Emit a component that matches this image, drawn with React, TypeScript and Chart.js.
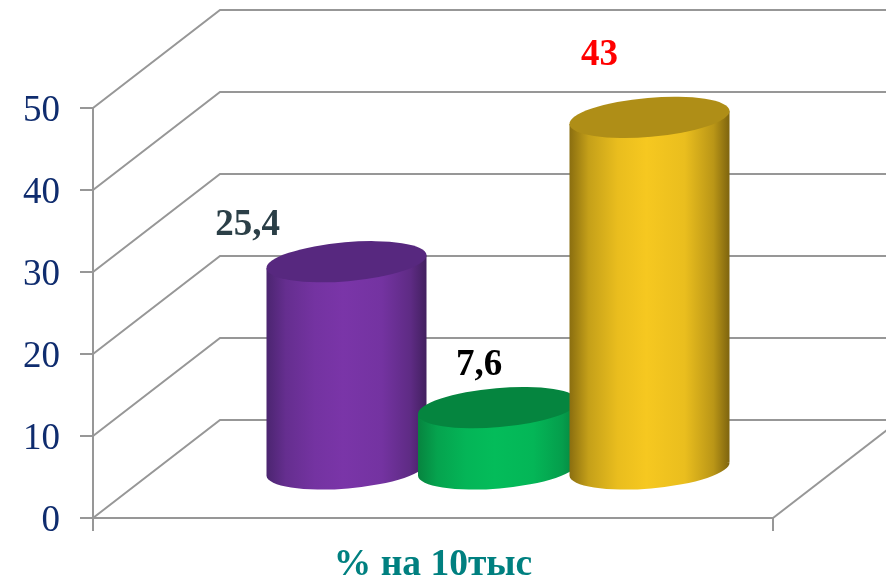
import React, { useEffect, useRef } from "react";
import { Chart, registerables } from "chart.js";

Chart.register(...registerables);

const categories = ["% на 10тыс"];
const seriesNames = ["A", "B", "C"];
const seriesValues = [25.4, 7.6, 43];
const valueLabels = ["25,4", "7,6", "43"];
const labelColors = ["#2B3F47", "#000000", "#FF0000"];
const yTicks = [0, 10, 20, 30, 40, 50];
const bodyEdgeLeft = ["#4B2570", "#07843F", "#8A6E10"];
const bodyMid = ["#7A35A8", "#04BC5A", "#F6C820"];
const bodyEdgeRight = ["#42205F", "#06803D", "#7E640E"];
const capColors = ["#57287F", "#05853F", "#AF8E17"];

const DEPTH_X = 127;
const DEPTH_Y = 98;
const CYL_SHIFT_X = 65;
const CYL_SHIFT_Y = 48;
const GRID = "#979797";
const SERIF = '"Liberation Serif", "Times New Roman", serif';
const LABEL_OFFSET = [
  { dx: -99, dy: -36 },
  { dx: -19, dy: -42 },
  { dx: -50, dy: -62 },
];

function mix(c1: string, c2: string, t: number) {
  const p = (c: string, i: number) => parseInt(c.slice(1 + i * 2, 3 + i * 2), 16);
  const v = [0, 1, 2].map((i) => Math.round(p(c1, i) + (p(c2, i) - p(c1, i)) * t));
  return `rgb(${v[0]},${v[1]},${v[2]})`;
}

const wall3d = {
  id: "wall3d",
  beforeDatasetsDraw(chart: any) {
    const { ctx, scales } = chart;
    const y = scales.y;
    const x = scales.x;
    ctx.save();
    ctx.strokeStyle = GRID;
    ctx.lineWidth = 2;
    yTicks.forEach((t) => {
      const py = y.getPixelForValue(t);
      ctx.beginPath();
      ctx.moveTo(x.left, py);
      ctx.lineTo(x.left + DEPTH_X, py - DEPTH_Y);
      ctx.lineTo(chart.width, py - DEPTH_Y);
      ctx.stroke();
    });
    const by = y.getPixelForValue(0);
    ctx.beginPath();
    ctx.moveTo(x.right, by);
    ctx.lineTo(x.right + DEPTH_X, by - DEPTH_Y);
    ctx.stroke();
    ctx.restore();
  },
};

const cylinders = {
  id: "cylinders",
  afterDatasetsDraw(chart: any) {
    const { ctx } = chart;
    const W = 160 / 151.5;
    const tilt = (-4.9 * Math.PI) / 180;
    const b = 19.5;
    const skew = 6.5;
    chart.data.datasets.forEach((_: any, i: number) => {
      const el = chart.getDatasetMeta(i).data[0];
      const w = el.width * W;
      const a = w / 2;
      const cx = el.x + CYL_SHIFT_X;
      const top = el.y - CYL_SHIFT_Y;
      const bot = el.base - CYL_SHIFT_Y;
      const grad = ctx.createLinearGradient(cx - a, 0, cx + a, 0);
      grad.addColorStop(0, bodyEdgeLeft[i]);
      grad.addColorStop(0.12, mix(bodyEdgeLeft[i], bodyMid[i], 0.55));
      grad.addColorStop(0.3, mix(bodyEdgeLeft[i], bodyMid[i], 0.88));
      grad.addColorStop(0.48, bodyMid[i]);
      grad.addColorStop(0.72, mix(bodyEdgeRight[i], bodyMid[i], 0.9));
      grad.addColorStop(0.9, mix(bodyEdgeRight[i], bodyMid[i], 0.5));
      grad.addColorStop(1, bodyEdgeRight[i]);
      ctx.save();
      ctx.fillStyle = grad;
      ctx.beginPath();
      ctx.moveTo(cx - a, top + skew);
      ctx.lineTo(cx - a, bot + skew);
      ctx.lineTo(cx + a, bot - skew);
      ctx.lineTo(cx + a, top - skew);
      ctx.closePath();
      ctx.moveTo(cx + a, bot);
      ctx.ellipse(cx, bot, a + 0.3, b, tilt, 0, Math.PI * 2, true);
      ctx.fill("nonzero");
      ctx.beginPath();
      ctx.ellipse(cx, top, a + 0.3, b, tilt, 0, Math.PI * 2);
      ctx.fillStyle = capColors[i];
      ctx.fill();
      ctx.restore();

      ctx.save();
      ctx.font = `bold 37px ${SERIF}`;
      ctx.textAlign = "center";
      ctx.textBaseline = "middle";
      ctx.fillStyle = labelColors[i];
      ctx.fillText(valueLabels[i], cx + LABEL_OFFSET[i].dx, top + LABEL_OFFSET[i].dy);
      ctx.restore();
    });
  },
};

export default function App() {
  const ref = useRef<HTMLCanvasElement>(null);
  useEffect(() => {
    document.body.style.margin = "0";
    const chart = new Chart(ref.current!, {
      type: "bar",
      data: {
        labels: categories,
        datasets: seriesValues.map((v, i) => ({
          label: seriesNames[i],
          data: [v],
          backgroundColor: "transparent",
          borderWidth: 0,
          categoryPercentage: 454.5 / 680,
          barPercentage: 1,
        })),
      },
      options: {
        responsive: false,
        animation: false,
        layout: { padding: { top: 108, right: 113, left: 0, bottom: 0 } },
        plugins: { legend: { display: false }, tooltip: { enabled: false } },
        scales: {
          x: {
            afterFit: (s: any) => {
              s.height = 59;
            },
            grid: {
              drawOnChartArea: false,
              drawTicks: true,
              tickLength: 13,
              color: GRID,
              lineWidth: 2,
            },
            border: { color: GRID, width: 2 },
            ticks: {
              color: "#008080",
              padding: 12,
              maxRotation: 0,
              font: { family: SERIF, size: 37.5, weight: "bold" },
            },
          },
          y: {
            min: 0,
            max: 50,
            afterFit: (s: any) => {
              s.width = 93;
            },
            grid: {
              drawOnChartArea: false,
              drawTicks: true,
              tickLength: 13,
              color: GRID,
              lineWidth: 2,
            },
            border: { color: GRID, width: 2 },
            ticks: {
              stepSize: 10,
              color: "#0F2C6E",
              padding: 20,
              labelOffset: 3,
              font: { family: SERIF, size: 37 },
            },
          },
        },
      },
      plugins: [wall3d, cylinders],
    } as any);
    return () => chart.destroy();
  }, []);
  return (
    <canvas
      ref={ref}
      width={886}
      height={577}
      style={{ display: "block", width: 886, height: 577 }}
    />
  );
}
